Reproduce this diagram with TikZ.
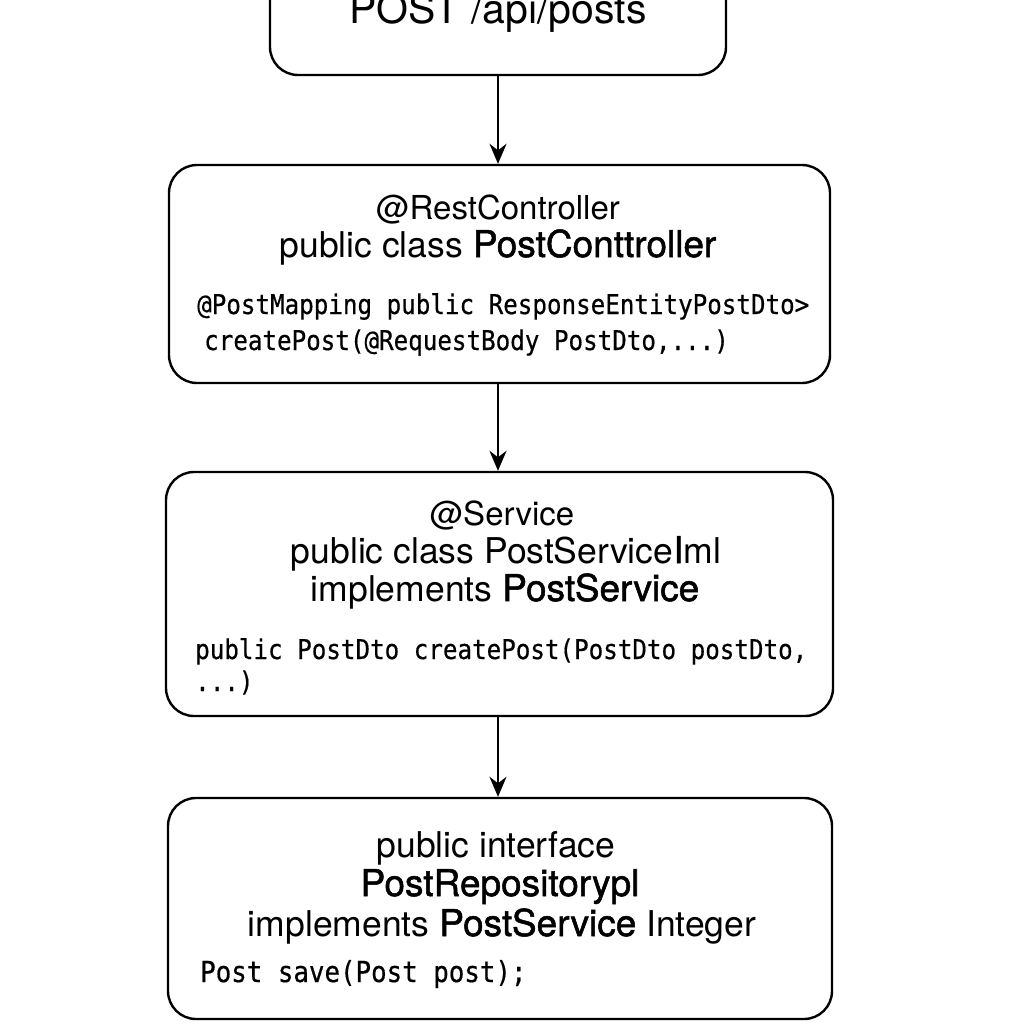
\documentclass[tikz,border=0pt]{standalone}
\usepackage{fontspec}
\setmainfont{TeX Gyre Heros}
\newfontfamily\heavyfont[FakeBold=1.4]{TeX Gyre Heros}
\newfontfamily\codefont[FakeStretch=0.89,FakeBold=0.5]{DejaVu Sans Mono}
\usetikzlibrary{arrows.meta}
\newcommand{\hv}[1]{{\heavyfont\fontsize{37}{42}\selectfont #1}}
\begin{document}
\begin{tikzpicture}[x=1pt,y=-1pt,
  box/.style={draw, line width=2.4pt, rounded corners=28pt, inner sep=0pt},
  lbl/.style={anchor=base, inner sep=0pt, font=\fontsize{35.5}{40}\selectfont},
  headlbl/.style={anchor=base, inner sep=0pt, font=\fontsize{33}{38}\selectfont},
  toplbl/.style={anchor=base, inner sep=0pt, font=\fontsize{41}{46}\selectfont},
  code/.style={anchor=base west, inner sep=0pt, font=\fontsize{27.2}{30}\selectfont\codefont},
  bigcode/.style={code, font=\fontsize{29}{32}\selectfont\codefont},
  flow/.style={-{Stealth[length=20pt,width=17pt]}, line width=2.4pt}]
\useasboundingbox (0,0) rectangle (1024,1024);
\clip (0,0) rectangle (1024,1024);
\fill[white] (0,0) rectangle (1024,1024);
% boxes
\node[box, minimum width=456pt, minimum height=180pt] (req) at (498,-15) {};
\node[box, minimum width=661pt, minimum height=218pt] (ctrl) at (499.5,274) {};
\node[box, minimum width=667pt, minimum height=244pt] (svc) at (499.5,594) {};
\node[box, minimum width=664pt, minimum height=221pt] (repo) at (500,908.5) {};
% top
\node[toplbl] (reqt) at (498,24) {POST /api/posts};
% controller
\node[headlbl] (c1) at (498,219) {@RestController};
\node[lbl] (c2) at (498,257) {public class \hv{PostConttroller}};
\node[code] (c3) at (197,314) {@PostMapping public ResponseEntityPostDto>};
\node[code] (c4) at (204,350) {createPost(@RequestBody PostDto,...)};
% service
\node[headlbl] (s1) at (502,525) {@Service};
\node[lbl] (s2) at (506,563) {public class PostService\hv{I}ml};
\node[lbl] (s3) at (505,601) {implements \hv{PostService}};
\node[code] (s4) at (195,659) {public PostDto createPost(PostDto postDto,};
\node[code] (s5) at (195,691) {...)};
% repository
\node[lbl] (r1) at (496,857) {public interface};
\node[lbl] (r2) at (500,896) {\hv{PostRepositorypl}};
\node[lbl] (r3) at (502,936) {implements \hv{PostService} Integer};
\node[bigcode] (r4) at (200,982) {Post save(Post post);};
% connectors
\draw[flow] (req.south) -- (req.south |- ctrl.north);
\draw[flow] (req.south |- ctrl.south) -- (req.south |- svc.north);
\draw[flow] (req.south |- svc.south) -- (req.south |- repo.north);
\end{tikzpicture}
\end{document}
